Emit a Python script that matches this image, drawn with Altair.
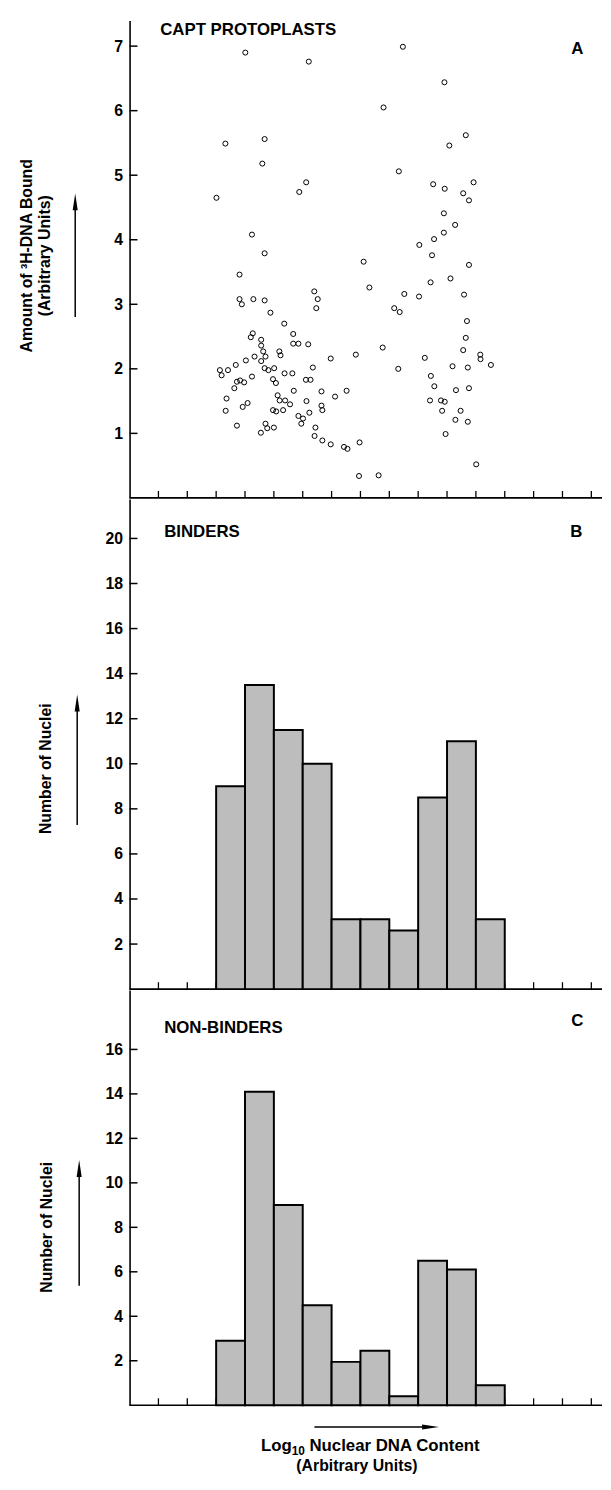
import altair as alt
import pandas as pd

# ---------------- data ----------------
scatter_x = [4.01,6.21,9.47,10.91,8.80,3.32,4.68,4.60,11.65,11.08,
             9.33,3.01,6.12,5.88,10.52,10.92,11.92,11.56,11.76,10.89,
             11.28,10.89,10.55,10.04,4.24,4.68,10.48,11.76,8.11,3.81,
             8.31,10.43,11.12,6.40,6.52,6.47,3.81,3.89,4.29,4.68,
             4.88,9.52,10.03,9.17,9.36,11.59,11.69,11.65,5.36,5.67,
             4.27,4.20,4.56,4.56,4.63,4.71,4.56,4.33,4.03,5.19,
             5.23,5.67,5.85,6.19,8.77,7.84,6.97,10.23,11.56,12.15,
             12.16,12.52,11.19,11.72,9.31,6.35,3.13,3.19,3.41,3.68,
             4.68,4.81,5.01,5.37,5.64,4.24,3.83,3.72,3.97,3.63,
             4.97,5.07,6.11,6.27,10.44,10.56,11.76,3.36,3.33,4.09,
             3.92,5.13,5.20,5.39,5.56,5.32,4.97,5.08,5.69,6.13,
             6.65,7.12,7.52,6.65,6.68,6.23,5.85,6.01,5.95,10.41,
             10.79,10.92,10.83,11.31,11.47,11.29,11.72,10.95,3.72,4.71,
             4.77,5.00,4.55,6.44,6.41,6.68,6.97,7.43,7.55,7.97,
             12.01,7.95,8.63]
scatter_y = [6.90,6.76,6.99,6.44,6.05,5.49,5.56,5.18,5.62,5.46,
             5.06,4.65,4.89,4.74,4.86,4.79,4.89,4.72,4.61,4.41,
             4.23,4.11,4.01,3.92,4.08,3.79,3.76,3.61,3.66,3.46,
             3.26,3.34,3.40,3.20,3.08,2.94,3.08,3.00,3.08,3.06,
             2.87,3.16,3.12,2.94,2.88,3.15,2.74,2.48,2.70,2.54,
             2.55,2.49,2.45,2.36,2.27,2.19,2.12,2.19,2.13,2.27,
             2.21,2.39,2.39,2.38,2.33,2.22,2.16,2.17,2.29,2.22,
             2.15,2.06,2.04,2.02,2.00,2.02,1.98,1.90,1.98,2.06,
             2.01,1.98,2.01,1.93,1.93,1.88,1.82,1.80,1.79,1.70,
             1.84,1.78,1.83,1.83,1.89,1.73,1.70,1.54,1.35,1.47,
             1.41,1.59,1.51,1.51,1.45,1.36,1.36,1.34,1.66,1.50,
             1.65,1.57,1.66,1.43,1.36,1.32,1.27,1.23,1.15,1.51,
             1.51,1.49,1.35,1.67,1.35,1.21,1.18,0.99,1.12,1.15,
             1.08,1.09,1.01,1.09,0.96,0.89,0.83,0.79,0.76,0.86,
             0.52,0.34,0.35]

bin_start = [3, 4, 5, 6, 7, 8, 9, 10, 11, 12]
binders = [9.0, 13.5, 11.5, 10.0, 3.1, 3.1, 2.6, 8.5, 11.0, 3.1]
non_binders = [2.9, 14.1, 9.0, 4.5, 1.95, 2.45, 0.4, 6.5, 6.1, 0.9]

x_tick_positions = list(range(1, 17))
ticks_a = [1, 2, 3, 4, 5, 6, 7]
ticks_b = [2, 4, 6, 8, 10, 12, 14, 16, 18, 20]
ticks_c = [2, 4, 6, 8, 10, 12, 14, 16]

# ---------------- style ----------------
FONT = "Liberation Sans"
W = 478
TICK_PX = 29.2
HA, HB, HC = 483, 496, 420
YMAX_A, YMAX_B, YMAX_C = HA / 65.3, HB / 22.8, HC / 22.5
xscale = alt.Scale(domain=[0, W / TICK_PX], nice=False, zero=False)
BAR_FILL = "#bdbdbd"


def text_layer(s, x, y, size=17, align="left", angle=0, baseline="middle", weight="bold"):
    kw = dict(align=align, baseline=baseline, font=FONT, fontSize=size,
              fontWeight=weight, color="black")
    if angle:
        kw["angle"] = angle
    return alt.Chart(pd.DataFrame({"s": [s]})).mark_text(**kw).encode(
        x=alt.value(x), y=alt.value(y), text="s:N")


def v_arrow(x, y_tip, y_bot):
    shaft = alt.Chart(pd.DataFrame({"a": [0]})).mark_rule(color="black", strokeWidth=1.5).encode(
        x=alt.value(x), y=alt.value(y_tip + 8), y2=alt.value(y_bot))
    head = alt.Chart(pd.DataFrame({"a": [0]})).mark_point(
        shape="M0,-1L0.3,1L-0.3,1Z", filled=True, color="black", size=289, opacity=1).encode(
        x=alt.value(x), y=alt.value(y_tip + 8.5))
    return shaft + head


def h_arrow(x_left, x_tip, y):
    shaft = alt.Chart(pd.DataFrame({"a": [0]})).mark_rule(color="black", strokeWidth=1.5).encode(
        x=alt.value(x_left), x2=alt.value(x_tip - 8), y=alt.value(y))
    head = alt.Chart(pd.DataFrame({"a": [0]})).mark_point(
        shape="M1,0L-1,-0.3L-1,0.3Z", filled=True, color="black", size=289, opacity=1).encode(
        x=alt.value(x_tip - 8.5), y=alt.value(y))
    return shaft + head


def frame(H, ymax, yticks):
    ys = alt.Scale(domain=[0, ymax], nice=False, zero=False)
    yax = alt.Axis(values=yticks, title=None, ticks=False, grid=False, domain=True,
                   domainColor="black", domainWidth=1.6, labelFont=FONT, labelFontSize=16,
                   labelFontWeight="bold", labelColor="black", labelPadding=7, format="d")
    ytick_layer = alt.Chart(pd.DataFrame({"v": yticks})).mark_rule(
        color="black", strokeWidth=1.5).encode(
        y=alt.Y("v:Q", scale=ys, axis=yax, title=None),
        x=alt.value(0), x2=alt.value(8))
    xtick_layer = alt.Chart(pd.DataFrame({"t": x_tick_positions})).mark_rule(
        color="black", strokeWidth=1.3).encode(
        x=alt.X("t:Q", scale=xscale, axis=None),
        y=alt.value(H), y2=alt.value(H - 7))
    xline = alt.Chart(pd.DataFrame({"a": [0]})).mark_rule(
        color="black", strokeWidth=1.6).encode(
        x=alt.value(0), x2=alt.value(W), y=alt.value(H))
    return ys, yax, xtick_layer + xline + ytick_layer


def hist(values, ys, yax):
    df = pd.DataFrame({"x0": bin_start, "x1": [b + 1 for b in bin_start],
                       "n": values, "base": [0] * len(values)})
    return alt.Chart(df).mark_rect(fill=BAR_FILL, stroke="black", strokeWidth=2).encode(
        x=alt.X("x0:Q", scale=xscale, axis=None), x2="x1:Q",
        y=alt.Y("n:Q", scale=ys, axis=yax, title=None), y2="base:Q")


# ---------------- panel A ----------------
ys_a, yax_a, frame_a = frame(HA, YMAX_A, ticks_a)
pts = alt.Chart(pd.DataFrame({"x": scatter_x, "y": scatter_y})).mark_point(
    shape="circle", size=26, color="black", strokeWidth=1.0, filled=False, opacity=1).encode(
    x=alt.X("x:Q", scale=xscale, axis=None),
    y=alt.Y("y:Q", scale=ys_a, axis=yax_a, title=None))
anchor = alt.Chart(pd.DataFrame({"a": [0]})).mark_rule(color="white", strokeWidth=1).encode(
    x=alt.value(-122.5), y=alt.value(200), y2=alt.value(202))
panel_a = alt.layer(
    anchor, frame_a, pts,
    text_layer("CAPT PROTOPLASTS", 31, 10),
    text_layer("A", 453, 29, align="center"),
    text_layer("Amount of \u00b3H-DNA Bound", -104, 238, size=16, align="center", angle=270),
    text_layer("(Arbitrary Units)", -86, 238, size=16, align="center", angle=270),
    v_arrow(-55, 175, 300),
).properties(width=W, height=HA)

# ---------------- panel B ----------------
ys_b, yax_b, frame_b = frame(HB, YMAX_B, ticks_b)
panel_b = alt.layer(
    frame_b, hist(binders, ys_b, yax_b),
    text_layer("BINDERS", 35, 34),
    text_layer("B", 452, 34, align="center"),
    text_layer("Number of Nuclei", -84, 273, size=16, align="center", angle=270),
    v_arrow(-53, 198, 330),
).properties(width=W, height=HB)

# ---------------- panel C ----------------
ys_c, yax_c, frame_c = frame(HC, YMAX_C, ticks_c)
panel_c = alt.layer(
    frame_c, hist(non_binders, ys_c, yax_c),
    text_layer("NON-BINDERS", 35, 38),
    text_layer("C", 453, 31, align="center"),
    text_layer("Number of Nuclei", -83, 240, size=16, align="center", angle=270),
    v_arrow(-51, 172, 299),
    h_arrow(187, 313, 442),
    text_layer("Log", 133, 466, baseline="alphabetic"),
    text_layer("10", 164, 470, size=12, baseline="alphabetic"),
    text_layer("Nuclear DNA Content", 182, 466, baseline="alphabetic"),
    text_layer("(Arbitrary Units)", 230, 487, size=16, align="center", baseline="alphabetic"),
).properties(width=W, height=HC)

chart = alt.vconcat(panel_a, panel_b, panel_c, spacing=0).properties(
    padding={"left": 0, "top": 4, "right": 0, "bottom": 0}
).configure_view(stroke=None).configure_concat(spacing=0)

chart.save("out.html", embed_options={"renderer": "svg", "actions": False})
